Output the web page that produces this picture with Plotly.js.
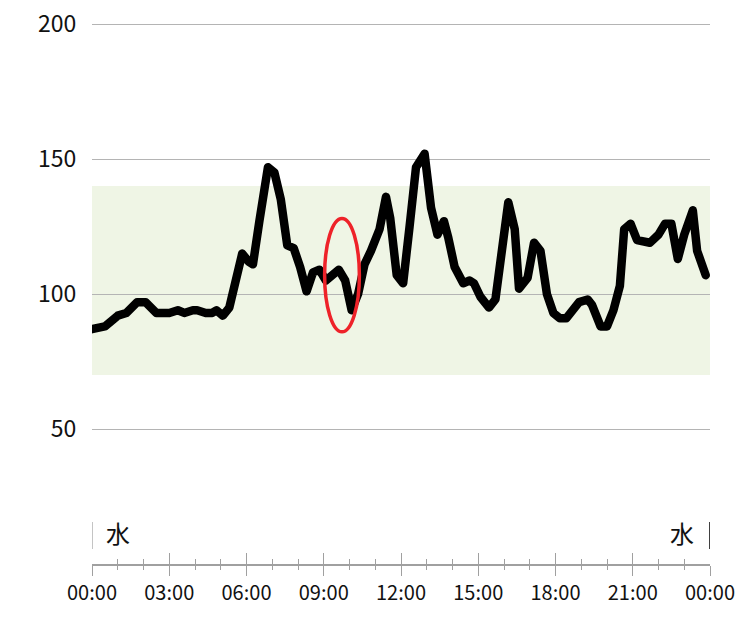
<!DOCTYPE html>
<html>
<head>
<meta charset="utf-8">
<script src="https://cdn.plot.ly/plotly-3.0.1.min.js"></script>
<style>html,body{margin:0;padding:0;background:#fff;}#chart{width:750px;height:618px;}
#chart .js-line{stroke-linejoin:round !important;stroke-linecap:round !important;}</style>
</head>
<body>
<div id="chart"></div>
<script>
// Data (date: Wednesday)
const day = '2024-01-03';
const nextDay = '2024-01-04';
const times = ['00:00','00:30','01:00','01:20','01:45','02:05','02:30','03:00','03:20','03:35','03:55','04:05','04:25','04:40','04:50','05:05','05:20','05:35','05:50','06:05','06:15','06:30','06:50','07:05','07:20','07:35','07:50','08:05','08:20','08:35','08:50','09:05','09:20','09:35','09:50','10:05','10:20','10:35','10:50','11:10','11:25','11:35','11:50','12:05','12:20','12:35','12:55','13:10','13:25','13:40','13:50','14:05','14:25','14:40','14:50','15:05','15:25','15:40','15:55','16:10','16:25','16:35','16:55','17:10','17:25','17:40','17:55','18:10','18:25','18:40','18:55','19:15','19:25','19:45','20:00','20:15','20:30','20:40','20:55','21:10','21:30','21:40','22:00','22:15','22:30','22:45','23:00','23:20','23:30','23:50'];
const values = [87,88,92,93,97,97,93,93,94,93,94,94,93,93,94,92,95,105,115,112,111,127,147,145,135,118,117,110,101,108,109,105,107,109,105,94,100,111,116,124,136,128,107,104,125,147,152,132,122,127,121,110,104,105,104,99,95,98,116,134,124,102,106,119,116,100,93,91,91,94,97,98,96,88,88,94,103,124,126,120,119,119,122,126,126,113,122,131,116,107];
const yTickVals = [50,100,150,200];
const xTickVals = ['00:00','03:00','06:00','09:00','12:00','15:00','18:00','21:00','00:00'];
const targetLow = 70, targetHigh = 140;
const dayLabel = '水';
const highlightTimes = ['09:02','10:23'];
const highlightRange = [86, 128];

const x = times.map(t => day + ' ' + t);
const xStart = day + ' 00:00', xEnd = nextDay + ' 00:00';
const tickDates = xTickVals.map((t, i) => (i === xTickVals.length - 1 ? nextDay : day) + ' ' + t);

const font = "'Noto Sans CJK JP', 'Noto Sans', sans-serif";

const traces = [
  {x: x, y: values, type: 'scatter', mode: 'lines', xaxis: 'x', yaxis: 'y',
   line: {color: '#000', width: 8.5, shape: 'linear'}, hoverinfo: 'skip', showlegend: false},
  {x: x, y: values, type: 'scatter', mode: 'lines', xaxis: 'x2', yaxis: 'y',
   line: {color: 'rgba(0,0,0,0)', width: 0}, hoverinfo: 'skip', showlegend: false}
];

const axisCommon = {
  type: 'date', range: [xStart, xEnd], tickvals: tickDates, ticktext: xTickVals,
  showgrid: false, zeroline: false, tickcolor: '#a0a0a0', tickwidth: 1
};

const layout = {
  width: 750, height: 618,
  margin: {l: 92, r: 40, t: 23, b: 54},
  paper_bgcolor: '#fff', plot_bgcolor: '#fff',
  font: {family: font, color: '#111'},
  showlegend: false,
  xaxis: Object.assign({}, axisCommon, {
    showline: true, linecolor: '#a0a0a0', linewidth: 1.5,
    ticks: 'outside', ticklen: 10,
    minor: {dtick: 3600000, tick0: xStart, ticks: 'outside', ticklen: 4, tickcolor: '#a0a0a0', showgrid: false},
    tickfont: {size: 20, family: font, color: '#111'}
  }),
  xaxis2: Object.assign({}, axisCommon, {
    overlaying: 'x', anchor: 'y', side: 'bottom', showline: false,
    ticks: 'inside', ticklen: 11, showticklabels: false,
    minor: {dtick: 3600000, tick0: xStart, ticks: 'inside', ticklen: 5, tickcolor: '#a0a0a0', showgrid: false}
  }),
  yaxis: {
    range: [0, 200.4], tickvals: yTickVals, showgrid: true, gridcolor: '#b4b4b4', gridwidth: 1,
    zeroline: false, showline: false, ticks: 'outside', ticklen: 10, tickcolor: 'rgba(0,0,0,0)',
    tickfont: {size: 23, family: font, color: '#111'}, fixedrange: true
  },
  shapes: [
    {type: 'rect', xref: 'x', yref: 'y', x0: xStart, x1: xEnd, y0: targetLow, y1: targetHigh,
     fillcolor: '#eff5e5', line: {width: 0}, layer: 'below'},
    {type: 'line', xref: 'x', yref: 'y', x0: xStart, x1: xStart, y0: 5.6, y1: 15.6,
     line: {color: '#b0b0b0', width: 1.5}},
    {type: 'line', xref: 'x', yref: 'y', x0: xEnd, x1: xEnd, y0: 5.6, y1: 15.6,
     line: {color: '#000', width: 1.5}},
    {type: 'circle', xref: 'x', yref: 'y',
     x0: day + ' ' + highlightTimes[0], x1: day + ' ' + highlightTimes[1],
     y0: highlightRange[0], y1: highlightRange[1],
     line: {color: '#ee2229', width: 3.5}, fillcolor: 'rgba(0,0,0,0)', layer: 'above'}
  ],
  annotations: [
    {xref: 'x', yref: 'y', x: xStart, y: 11.5, text: dayLabel, showarrow: false,
     xanchor: 'left', xshift: 12, font: {size: 24, family: font, color: '#111'}},
    {xref: 'x', yref: 'y', x: xEnd, y: 11.5, text: dayLabel, showarrow: false,
     xanchor: 'right', xshift: -14, font: {size: 24, family: font, color: '#111'}}
  ]
};

Plotly.newPlot('chart', traces, layout, {displayModeBar: false, staticPlot: true});
</script>
</body>
</html>
